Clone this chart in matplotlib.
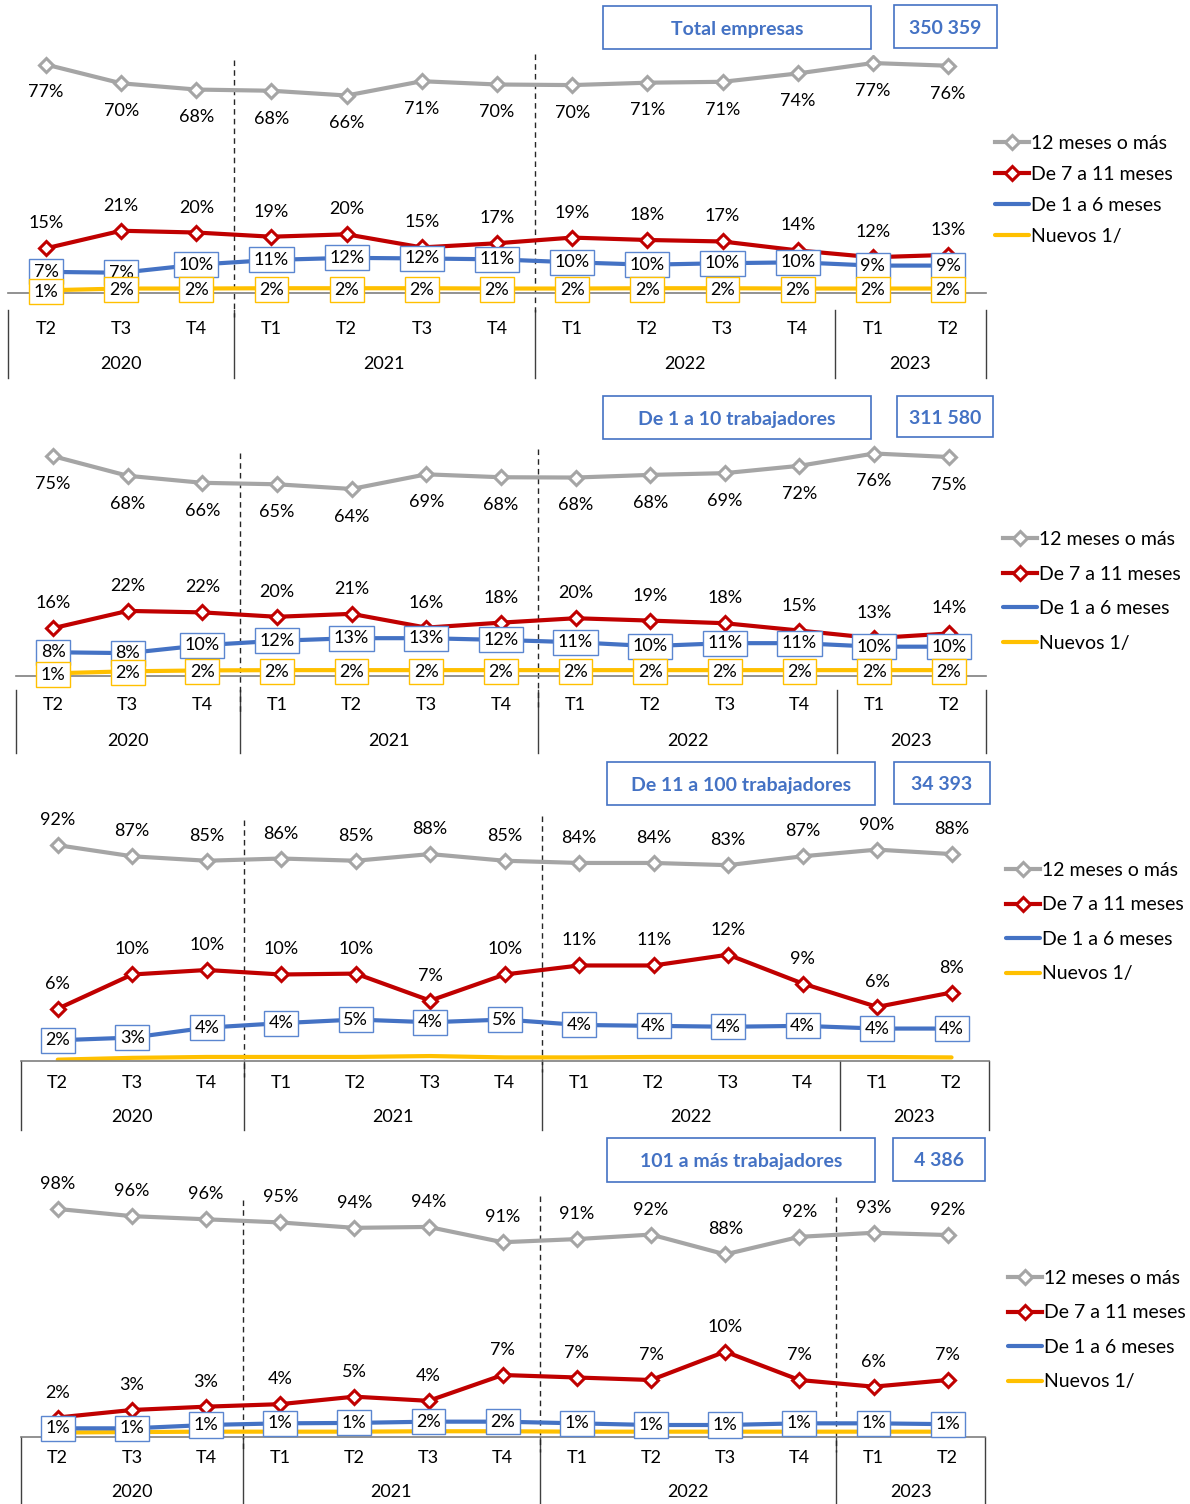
import matplotlib
matplotlib.use("Agg")
import matplotlib.pyplot as plt
import matplotlib.transforms as mtransforms
from matplotlib.patches import Rectangle

plt.rcParams['font.family'] = ['Lato', 'DejaVu Sans']

# datos
quarters = ["T2", "T3", "T4", "T1", "T2", "T3", "T4", "T1", "T2", "T3", "T4", "T1", "T2"]
quarter_year = ["2020", "2020", "2020", "2021", "2021", "2021", "2021",
                "2022", "2022", "2022", "2022", "2023", "2023"]
series_names = ["12 meses o más", "De 7 a 11 meses", "De 1 a 6 meses", "Nuevos 1/"]

titles = ["Total empresas", "De 1 a 10 trabajadores",
          "De 11 a 100 trabajadores", "101 a más trabajadores"]
totals = ["350 359", "311 580", "34 393", "4 386"]

# Total empresas
total_12 = [76.8, 70.5, 68.4, 68.0, 66.4, 71.2, 70.1, 69.9, 70.7, 71.0, 73.8, 77.3, 76.4]
total_7_11 = [15.1, 21.0, 20.4, 19.0, 19.8, 15.4, 16.8, 18.7, 17.9, 17.4, 14.4, 12.1, 12.9]
total_1_6 = [7.2, 6.9, 9.6, 11.2, 11.9, 11.7, 11.4, 10.4, 9.6, 10.1, 10.4, 9.3, 9.3]
total_new = [1.0, 1.6, 1.6, 1.7, 1.7, 1.7, 1.6, 1.6, 1.7, 1.7, 1.6, 1.6, 1.6]

# De 1 a 10 trabajadores
micro_12 = [74.9, 68.2, 65.8, 65.3, 63.7, 68.7, 67.7, 67.6, 68.5, 69.1, 71.6, 75.8, 74.6]
micro_7_11 = [16.2, 22.1, 21.6, 20.1, 21.1, 16.4, 18.1, 19.6, 18.8, 17.9, 15.4, 12.8, 14.4]
micro_1_6 = [8.0, 7.7, 10.4, 11.9, 12.8, 12.8, 12.2, 11.4, 10.1, 11.1, 11.1, 9.9, 9.9]
micro_new = [0.8, 1.5, 1.8, 1.9, 1.9, 1.9, 1.9, 1.9, 1.9, 1.9, 1.9, 1.9, 1.9]

# De 11 a 100 trabajadores
small_12 = [92, 87, 85, 86, 85, 88, 85, 84, 84, 83, 87, 90, 88]
small_7_11 = [5.8, 9.6, 10.1, 9.6, 9.7, 6.7, 9.6, 10.6, 10.6, 11.8, 8.6, 6.0, 7.6]
small_1_6 = [2.3, 2.6, 3.7, 4.2, 4.6, 4.3, 4.6, 4.0, 3.9, 3.8, 3.9, 3.6, 3.6]
small_new = [0.15, 0.35, 0.45, 0.45, 0.45, 0.55, 0.4, 0.4, 0.45, 0.45, 0.45, 0.45, 0.4]

# 101 a más trabajadores
big_12 = [98.0, 96.4, 95.7, 95.0, 93.8, 94.0, 90.6, 91.3, 92.3, 87.9, 91.8, 92.7, 92.2]
big_7_11 = [2.1, 3.0, 3.4, 3.7, 4.6, 4.1, 7.2, 6.9, 6.6, 10.0, 6.6, 5.8, 6.6]
big_1_6 = [0.8, 0.8, 1.2, 1.4, 1.45, 1.6, 1.6, 1.4, 1.2, 1.2, 1.4, 1.4, 1.3]
big_new = [0.3, 0.35, 0.4, 0.4, 0.4, 0.45, 0.45, 0.4, 0.4, 0.4, 0.4, 0.4, 0.4]

panel_data = [
    (total_12, total_7_11, total_1_6, total_new),
    (micro_12, micro_7_11, micro_1_6, micro_new),
    (small_12, small_7_11, small_1_6, small_new),
    (big_12, big_7_11, big_1_6, big_new),
]

colors = ["#A5A5A5", "#C00000", "#4472C4", "#FFC000"]

# layout (pixeles)
W, H = 1190, 1504
layout = [
    dict(left=8.4, right=985.6, top=55, bottom=293.3, ylim=(0, 80.0), glim=(0, 80.0),
         gray_above=False, new_labels=True, tick_y=329, year_y=364, sep=(310, 378),
         dash=[(60, 317), (54, 312)],
         title_box=(603, 6, 871, 49), total_box=(894, 5, 997, 48), leg=(995, 135, 0.72)),
    dict(left=15.7, right=986.1, top=445, bottom=675.7, ylim=(0, 78.7), glim=(0, 78.7),
         gray_above=False, new_labels=True, tick_y=705, year_y=740.5, sep=(690, 753),
         dash=[(453, 712), (449, 707)],
         title_box=(603, 396, 871, 439), total_box=(897, 396, 993, 437), leg=(1003, 531, 0.9)),
    dict(left=20.5, right=988.8, top=815, bottom=1061, ylim=(0, 27.3), glim=(-5.2, 105.6),
         gray_above=True, new_labels=False, tick_y=1082.5, year_y=1116.5, sep=(1061, 1130),
         dash=[(820, 1077), (816, 1072)],
         title_box=(607, 762, 875, 805), total_box=(894, 762, 990, 804), leg=(1006, 862, 0.9)),
    dict(left=20.6, right=984.8, top=1195, bottom=1437, ylim=(-0.24, 28.8), glim=(47.3, 101.1),
         gray_above=True, new_labels=False, tick_y=1458, year_y=1492, sep=(1437, 1504),
         dash=[(1200, 1452), (1196, 1452), (1197, 1452)],
         title_box=(607, 1138, 875, 1182), total_box=(893, 1138, 985, 1181), leg=(1008, 1270, 0.9)),
]

fig = plt.figure(figsize=(W / 100, H / 100), dpi=100)

# capa para cajas, separadores y textos en pixeles
over = fig.add_axes([0, 0, 1, 1])
over.set_xlim(0, W)
over.set_ylim(H, 0)
over.axis("off")

x = list(range(len(quarters)))

for p, (lay, data) in enumerate(zip(layout, panel_data)):
    ax = fig.add_axes([lay["left"] / W, 1 - lay["bottom"] / H,
                       (lay["right"] - lay["left"]) / W, (lay["bottom"] - lay["top"]) / H])
    ax.patch.set_alpha(0)
    ax.set_xlim(-0.5, len(quarters) - 0.5)
    ax.set_ylim(*lay["ylim"])
    ax.set_xticks([])
    ax.set_yticks([])
    for s in ["top", "left", "right"]:
        ax.spines[s].set_visible(False)
    ax.spines["bottom"].set_color("#7F7F7F")
    ax.spines["bottom"].set_linewidth(1.2)

    ax2 = ax.twinx()
    ax2.set_ylim(*lay["glim"])
    ax2.set_yticks([])
    ax2.axis("off")

    v12, v7, v1, vn = data
    h_new, = ax.plot(x, vn, color=colors[3], lw=3, zorder=2, solid_capstyle="round")
    h_16, = ax.plot(x, v1, color=colors[2], lw=3, zorder=3, solid_capstyle="round")
    h_711, = ax.plot(x, v7, color=colors[1], lw=3, marker="D", ms=7, mfc="white",
                     mec=colors[1], mew=2.2, zorder=4)
    h_12, = ax2.plot(x, v12, color=colors[0], lw=3, marker="D", ms=7, mfc="white",
                     mec=colors[0], mew=2.2, zorder=4)

    # etiquetas
    for i in x:
        off = 18 if lay["gray_above"] else -20
        ax2.annotate(f"{v12[i]:.0f}%", (i, v12[i]), xytext=(0, off), textcoords="offset points",
                     ha="center", va="center", fontsize=13, color="black")
        ax.annotate(f"{v7[i]:.0f}%", (i, v7[i]), xytext=(0, 18), textcoords="offset points",
                    ha="center", va="center", fontsize=13, color="black")
        ax.annotate(f"{v1[i]:.0f}%", (i, v1[i]), xytext=(0, 0), textcoords="offset points",
                    ha="center", va="center", fontsize=13, color="black", zorder=6,
                    annotation_clip=False,
                    bbox=dict(boxstyle="square,pad=0.25", fc="white", ec="#5B86D0", lw=1))
        if lay["new_labels"]:
            ax.annotate(f"{vn[i]:.0f}%", (i, vn[i]), xytext=(0, -1), textcoords="offset points",
                        ha="center", va="center", fontsize=13, color="black", zorder=7,
                        annotation_clip=False,
                        bbox=dict(boxstyle="square,pad=0.25", fc="white", ec="#FFC000", lw=1))

    # eje de categorias
    tr = mtransforms.blended_transform_factory(ax.transData, over.transData)
    for i, q in enumerate(quarters):
        over.text(i, lay["tick_y"], q, transform=tr, ha="center", va="center", fontsize=13)
    yrs = []
    for yname in quarter_year:
        if yname not in yrs:
            yrs.append(yname)
    for yname in yrs:
        idx = [i for i, yy in enumerate(quarter_year) if yy == yname]
        over.text((idx[0] + idx[-1]) / 2, lay["year_y"], yname, transform=tr,
                  ha="center", va="center", fontsize=13)
    inner = [i + 0.5 for i in range(len(quarter_year) - 1)
             if quarter_year[i] != quarter_year[i + 1]]
    bounds = [-0.5] + inner + [len(quarters) - 0.5]
    for b in bounds:
        over.plot([b, b], lay["sep"], transform=tr, color="#404040", lw=1)
    for b, (y0, y1) in zip(inner, lay["dash"]):
        over.plot([b, b], [y0, y1], transform=tr, color="#262626", lw=1, ls=(0, (4, 3)))

    # cajas de titulo
    for (x0, y0, x1, y1), txt in [(lay["title_box"], titles[p]), (lay["total_box"], totals[p])]:
        over.add_patch(Rectangle((x0, y0), x1 - x0, y1 - y0, fc="white", ec="#4472C4", lw=1.2))
        over.text((x0 + x1) / 2, (y0 + y1) / 2 + 1.5, txt, ha="center", va="center",
                  fontsize=14, fontweight="bold", color="#4472C4")

    lx, ly, lsp = lay["leg"]
    ax.legend([h_12, h_711, h_16, h_new], series_names, loc="upper left",
              bbox_to_anchor=(lx / W, 1 - ly / H), bbox_transform=fig.transFigure,
              frameon=False, fontsize=14, handlelength=1.75, handletextpad=0.1,
              labelspacing=lsp, borderpad=0, borderaxespad=0)

fig.savefig("out.png", dpi=100)
